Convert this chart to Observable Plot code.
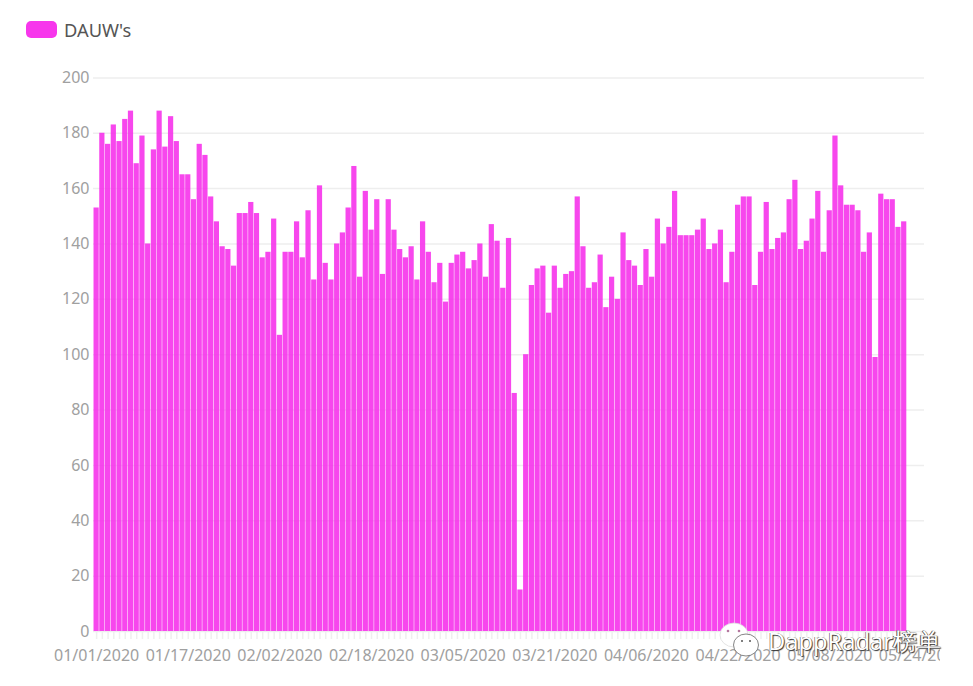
<!DOCTYPE html>
<html>
<head>
<meta charset="utf-8">
<script src="https://cdn.jsdelivr.net/npm/d3@7"></script>
<script src="https://cdn.jsdelivr.net/npm/@observablehq/plot@0.6"></script>
<style>
  html, body { margin: 0; padding: 0; background: #fff; }
  body { width: 973px; height: 686px; position: relative; overflow: hidden; font-family: "Noto Sans", sans-serif; }
  #legend { height: 60px; position: relative; }
  #swatch { position: absolute; left: 26px; top: 21px; width: 31px; height: 17px; border-radius: 5px; background: #f736ec; }
  #legendText { position: absolute; left: 64px; top: 17px; font-size: 18.3px; line-height: 26px; color: #555; }
  #chart { width: 940px; overflow: hidden; }
  #chart svg { overflow: hidden; display: block; }
  #wm { position: absolute; left: 718px; top: 620px; width: 230px; height: 40px; pointer-events: none; }
  #wmText { position: absolute; left: 50px; top: 5px; font-size: 23.6px; line-height: 32px; color: #fff; white-space: nowrap;
    text-shadow: 1px 1px 1px #333, -0.5px 0 0 #555, 0 -0.5px 0 #555; }
</style>
</head>
<body>
<div id="legend"><div id="swatch"></div><div id="legendText">DAUW's</div></div>
<div id="chart"></div>
<div id="wm">
  <svg width="46" height="40" viewBox="0 0 46 40">
    <ellipse cx="16" cy="15" rx="14" ry="12" fill="#fff" stroke="#ddd" stroke-width="0.8"/>
    <circle cx="10" cy="11" r="1.3" fill="#b5789f"/>
    <circle cx="21" cy="11" r="1.3" fill="#b5789f"/>
    <ellipse cx="28" cy="25" rx="12.5" ry="11" fill="#fff" stroke="#666" stroke-width="0.8"/>
    <circle cx="24" cy="21" r="1" fill="#555"/>
    <circle cx="32" cy="21" r="1" fill="#555"/>
  </svg>
  <div id="wmText">DappRadar榜单</div>
</div>
<script>
const dauw = [153,180,176,183,177,185,188,169,179,140,174,188,175,186,177,165,165,156,176,172,
  157,148,139,138,132,151,151,155,151,135,137,149,107,137,137,148,135,152,127,161,
  133,127,140,144,153,168,128,159,145,156,129,156,145,138,135,139,127,148,137,126,
  133,119,133,136,137,131,134,140,128,147,141,124,142,86,15,100,125,131,132,115,
  132,124,129,130,157,139,124,126,136,117,128,120,144,134,132,125,138,128,149,140,
  146,159,143,143,143,145,149,138,140,145,126,137,154,157,157,125,137,155,138,142,
  144,156,163,138,141,149,159,137,152,179,161,154,154,152,137,144,99,158,156,156,146,148];
const tickLabels = ["01/01/2020","01/17/2020","02/02/2020","02/18/2020","03/05/2020",
  "03/21/2020","04/06/2020","04/22/2020","05/08/2020","05/24/2020"];
const yTicks = [0,20,40,60,80,100,120,140,160,180,200];

const fmt = d3.utcFormat("%m/%d/%Y");
const days = d3.utcDays(new Date(Date.UTC(2020,0,1)), new Date(Date.UTC(2020,4,25))).map(fmt);
const rows = dauw.map((v, i) => ({day: days[i], v}));

const plot = Plot.plot({
  width: 940,
  height: 626,
  marginLeft: 93,
  marginRight: 16,
  marginTop: 17.4,
  marginBottom: 55,
  style: {fontFamily: '"Noto Sans", sans-serif', fontSize: "16px", background: "#fff"},
  x: {type: "band", domain: days, padding: 0.09, align: 0.5, round: false, label: null},
  y: {domain: [0, 200], label: null},
  marks: [
    Plot.ruleY(yTicks, {stroke: "#eeeeee", strokeWidth: 1.5}),
    Plot.axisX({ticks: days, tickSize: 8, tickFormat: () => "", stroke: "#efefef", strokeWidth: 1.5, label: null}),
    Plot.axisX({ticks: tickLabels, tickSize: 0, tickPadding: 18, fill: "#a0a0a0", label: null}),
    Plot.axisY({ticks: yTicks, tickSize: 0, tickPadding: 4, fill: "#a0a0a0", label: null}),
    Plot.barY(rows, {x: "day", y: "v", fill: "#f62eea", fillOpacity: 0.88})
  ]
});
document.getElementById("chart").append(plot);
</script>
</body>
</html>
